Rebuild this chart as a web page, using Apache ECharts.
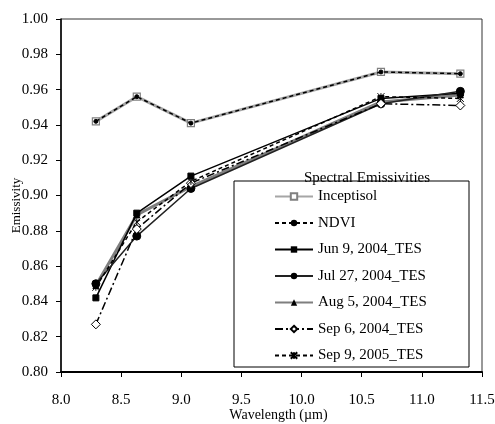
<!DOCTYPE html>
<html>
<head>
<meta charset="utf-8">
<script src="https://cdn.jsdelivr.net/npm/echarts@6/dist/echarts.min.js"></script>
<style>html,body{margin:0;padding:0;background:#fff;}#c{width:495px;height:424px;}</style>
</head>
<body>
<div id="c"></div>
<script>
// Data
var wavelengths = [8.29, 8.63, 9.08, 10.66, 11.32];
var inceptisol = [0.942, 0.956, 0.941, 0.970, 0.969];
var ndvi       = [0.942, 0.956, 0.941, 0.970, 0.969];
var jun9_2004  = [0.842, 0.890, 0.911, 0.955, 0.958];
var jul27_2004 = [0.850, 0.877, 0.904, 0.952, 0.959];
var aug5_2004  = [0.849, 0.889, 0.905, 0.953, 0.957];
var sep6_2004  = [0.827, 0.881, 0.907, 0.952, 0.951];
var sep9_2005  = [0.848, 0.885, 0.908, 0.956, 0.955];
var seriesNames = ['Inceptisol', 'NDVI', 'Jun 9, 2004_TES', 'Jul 27, 2004_TES', 'Aug 5, 2004_TES', 'Sep 6, 2004_TES', 'Sep 9, 2005_TES'];
var xTicks = [8.0, 8.5, 9.0, 9.5, 10.0, 10.5, 11.0, 11.5];
var yTicks = [0.80, 0.82, 0.84, 0.86, 0.88, 0.90, 0.92, 0.94, 0.96, 0.98, 1.00];

function pairs(vals) { return wavelengths.map(function (w, i) { return [w, vals[i]]; }); }

var FONT = '"Liberation Serif", "Times New Roman", serif';
var asterisk = 'path://M0,0L10,10M10,0L0,10M5,0L5,10';

var chart = echarts.init(document.getElementById('c'), null, {renderer: 'canvas'});
chart.setOption({
  animation: false,
  backgroundColor: '#fff',
  grid: {left: 61, right: 13, top: 19, bottom: 52, containLabel: false, outerBoundsMode: 'none',
    show: true, borderColor: '#333', borderWidth: 1, backgroundColor: 'transparent'},
  xAxis: {
    type: 'value', min: xTicks[0], max: xTicks[xTicks.length - 1], interval: 0.5,
    name: 'Wavelength (µm)', nameLocation: 'middle', nameGap: 36, nameMoveOverlap: false,
    nameTextStyle: {fontFamily: FONT, fontSize: 14, color: '#000', padding: [0, 0, 0, 14]},
    axisLine: {show: true, lineStyle: {color: '#000', width: 2}},
    axisTick: {show: true, inside: false, length: 5, lineStyle: {color: '#000'}},
    axisLabel: {fontFamily: FONT, fontSize: 15, color: '#000', margin: 21, formatter: function (v) { return v.toFixed(1); }},
    splitLine: {show: false}
  },
  yAxis: {
    type: 'value', min: yTicks[0], max: yTicks[yTicks.length - 1], interval: 0.02,
    name: 'Emissivity', nameLocation: 'middle', nameRotate: 90, nameGap: 38, nameMoveOverlap: false,
    nameTextStyle: {fontFamily: FONT, fontSize: 13, color: '#000', padding: [0, 20, 0, 0]},
    axisLine: {show: true, lineStyle: {color: '#000', width: 1.5}},
    axisTick: {show: true, inside: false, length: 5, lineStyle: {color: '#000'}},
    axisLabel: {fontFamily: FONT, fontSize: 15, color: '#000', margin: 13, formatter: function (v) { return v.toFixed(2); }},
    splitLine: {show: false}
  },
  legend: {
    orient: 'vertical', left: 274, top: 189, padding: 0,
    itemWidth: 38, itemHeight: 8, itemGap: 11.5,
    data: seriesNames,
    textStyle: {fontFamily: FONT, fontSize: 15, color: '#000'},
    z: 6
  },
  graphic: [
    {type: 'rect', shape: {x: 234, y: 181, width: 235, height: 186}, style: {fill: '#fff', stroke: '#000', lineWidth: 1}, z: 3},
    {type: 'text', x: 367, y: 186, style: {text: 'Spectral Emissivities', font: '15px ' + FONT, fill: '#000', textAlign: 'center', textVerticalAlign: 'bottom'}, z: 7}
  ],
  series: [
    {name: seriesNames[0], type: 'line', data: pairs(inceptisol), symbol: 'rect', symbolSize: 7,
      lineStyle: {color: '#a6a6a6', width: 3, type: 'solid'},
      itemStyle: {color: '#fff', borderColor: '#808080', borderWidth: 1.2}, z: 2},
    {name: seriesNames[1], type: 'line', data: pairs(ndvi), symbol: 'circle', symbolSize: 4,
      lineStyle: {color: '#000', width: 1.5, type: [4, 3]},
      itemStyle: {color: '#000', borderColor: '#000'}, z: 3},
    {name: seriesNames[2], type: 'line', data: pairs(jun9_2004), symbol: 'rect', symbolSize: 6,
      lineStyle: {color: '#000', width: 1.5, type: 'solid'},
      itemStyle: {color: '#000', borderColor: '#000'}, z: 3},
    {name: seriesNames[3], type: 'line', data: pairs(jul27_2004), symbol: 'circle', symbolSize: 8,
      lineStyle: {color: '#222', width: 1.5, type: 'solid'},
      itemStyle: {color: '#000', borderColor: '#000'}, z: 3},
    {name: seriesNames[4], type: 'line', data: pairs(aug5_2004), symbol: 'triangle', symbolSize: 6,
      lineStyle: {color: '#7f7f7f', width: 3, type: 'solid'},
      itemStyle: {color: '#000', borderColor: '#000'}, z: 2},
    {name: seriesNames[5], type: 'line', data: pairs(sep6_2004), symbol: 'diamond', symbolSize: 9,
      lineStyle: {color: '#000', width: 1.5, type: [8, 3, 2, 3]},
      itemStyle: {color: '#fff', borderColor: '#000', borderWidth: 1}, z: 3},
    {name: seriesNames[6], type: 'line', data: pairs(sep9_2005), symbol: asterisk, symbolSize: 7,
      lineStyle: {color: '#000', width: 1.5, type: [4, 3]},
      itemStyle: {color: 'transparent', borderColor: '#000', borderWidth: 1}, z: 3}
  ]
});
</script>
</body>
</html>
